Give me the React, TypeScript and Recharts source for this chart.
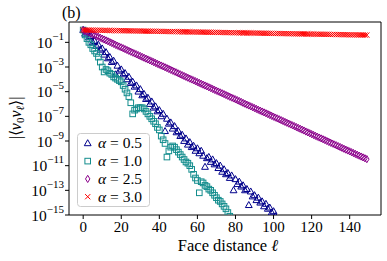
import React from "react";
import { ScatterChart, Scatter, XAxis, YAxis, ReferenceArea } from "recharts";

// log10 |<v0 v_l>|, one entry per face distance l = 0, 1, 2, ...
const alpha05 = [
  0, -0.3, -0.2, -0.6, -0.5, -1.0, -0.9, -1.3, -1.2, -1.6,
  -1.5, -2.0, -1.8, -2.3, -2.2, -2.6, -2.5, -3.6, -2.9, -3.3,
  -3.2, -3.6, -3.5, -4.0, -3.8, -4.3, -4.2, -4.6, -4.5, -5.0,
  -4.8, -5.3, -5.2, -5.6, -5.5, -6.0, -5.8, -6.3, -6.2, -6.6,
  -6.5, -7.0, -6.8, -8.2, -7.2, -7.6, -7.5, -8.0, -7.8, -8.3,
  -8.2, -8.6, -8.5, -9.0, -8.8, -9.3, -9.1, -9.5, -9.4, -9.8,
  -9.6, -10.0, -9.8, -10.2, -11.1, -10.4, -10.3, -10.7, -10.5, -10.9,
  -10.8, -11.2, -11.0, -11.5, -11.3, -11.7, -11.6, -12.0, -11.8, -13.0,
  -12.1, -12.5, -12.3, -12.7, -12.6, -13.0, -12.9, -14.2, -13.1, -13.5,
  -13.4, -13.8, -13.6, -14.0, -13.9, -14.3, -14.1, -14.5, -14.4, -14.8,
  -14.7, -15.1,
];

const alpha10 = [
  0, -0.4, -0.7, -1.0, -1.2, -1.5, -1.7, -1.9, -2.2, -2.6,
  -3.0, -3.4, -3.2, -3.3, -3.5, -3.6, -3.8, -3.9, -4.0, -4.1,
  -4.2, -4.5, -4.8, -5.1, -5.4, -5.9, -6.8, -6.5, -6.4, -6.3,
  -6.3, -6.3, -6.4, -6.6, -6.8, -7.0, -7.2, -7.4, -7.6, -7.9,
  -8.1, -8.6, -8.9, -9.2, -10.3, -9.8, -9.5, -9.4, -9.5, -9.7,
  -9.9, -10.1, -10.3, -10.5, -10.7, -10.8, -11.0, -11.3, -11.7, -12.0,
  -12.2, -13.2, -12.3, -12.4, -12.6, -12.7, -12.9, -13.0, -13.2, -13.4,
  -13.6, -13.8, -13.9, -14.1, -14.3, -14.5, -14.8, -15.1,
];

const alpha25 = [
  0, -0.07, -0.14, -0.21, -0.28, -0.35, -0.42, -0.49, -0.56, -0.63,
  -0.7, -0.77, -0.84, -0.91, -0.98, -1.05, -1.12, -1.2, -1.27, -1.34,
  -1.41, -1.48, -1.55, -1.62, -1.69, -1.76, -1.83, -1.9, -1.97, -2.04,
  -2.11, -2.18, -2.25, -2.32, -2.39, -2.46, -2.53, -2.6, -2.67, -2.74,
  -2.81, -2.88, -2.95, -3.02, -3.09, -3.16, -3.23, -3.3, -3.37, -3.44,
  -3.52, -3.59, -3.66, -3.73, -3.8, -3.87, -3.94, -4.01, -4.08, -4.15,
  -4.22, -4.29, -4.36, -4.43, -4.5, -4.57, -4.64, -4.71, -4.78, -4.85,
  -4.92, -4.99, -5.06, -5.13, -5.2, -5.27, -5.34, -5.41, -5.48, -5.55,
  -5.62, -5.69, -5.76, -5.83, -5.91, -5.98, -6.05, -6.12, -6.19, -6.26,
  -6.33, -6.4, -6.47, -6.54, -6.61, -6.68, -6.75, -6.82, -6.89, -6.96,
  -7.03, -7.1, -7.17, -7.24, -7.31, -7.38, -7.45, -7.52, -7.59, -7.66,
  -7.73, -7.8, -7.87, -7.94, -8.01, -8.08, -8.15, -8.23, -8.3, -8.37,
  -8.44, -8.51, -8.58, -8.65, -8.72, -8.79, -8.86, -8.93, -9.0, -9.07,
  -9.14, -9.21, -9.28, -9.35, -9.42, -9.49, -9.56, -9.63, -9.7, -9.77,
  -9.84, -9.91, -9.98, -10.05, -10.12, -10.19, -10.26, -10.33, -10.4, -10.47,
];

const alpha30 = [
  0, 0, -0.01, -0.01, -0.01, -0.01, -0.02, -0.02, -0.02, -0.02,
  -0.03, -0.03, -0.03, -0.04, -0.04, -0.04, -0.04, -0.05, -0.05, -0.05,
  -0.06, -0.06, -0.06, -0.06, -0.07, -0.07, -0.07, -0.07, -0.08, -0.08,
  -0.08, -0.09, -0.09, -0.09, -0.09, -0.1, -0.1, -0.1, -0.1, -0.11,
  -0.11, -0.11, -0.12, -0.12, -0.12, -0.12, -0.13, -0.13, -0.13, -0.13,
  -0.14, -0.14, -0.14, -0.15, -0.15, -0.15, -0.15, -0.16, -0.16, -0.16,
  -0.17, -0.17, -0.17, -0.17, -0.18, -0.18, -0.18, -0.18, -0.19, -0.19,
  -0.19, -0.2, -0.2, -0.2, -0.2, -0.21, -0.21, -0.21, -0.21, -0.22,
  -0.22, -0.22, -0.23, -0.23, -0.23, -0.23, -0.24, -0.24, -0.24, -0.24,
  -0.25, -0.25, -0.25, -0.26, -0.26, -0.26, -0.26, -0.27, -0.27, -0.27,
  -0.28, -0.28, -0.28, -0.28, -0.29, -0.29, -0.29, -0.29, -0.3, -0.3,
  -0.3, -0.31, -0.31, -0.31, -0.31, -0.32, -0.32, -0.32, -0.32, -0.33,
  -0.33, -0.33, -0.34, -0.34, -0.34, -0.34, -0.35, -0.35, -0.35, -0.35,
  -0.36, -0.36, -0.36, -0.37, -0.37, -0.37, -0.37, -0.38, -0.38, -0.38,
  -0.39, -0.39, -0.39, -0.39, -0.4, -0.4, -0.4, -0.4, -0.41, -0.41,
];

const xTicks = [0, 20, 40, 60, 80, 100, 120, 140];
const yTicks = [-15, -13, -11, -9, -7, -5, -3, -1];
const alphaLabels = ["0.5", "1.0", "2.5", "3.0"];

const SERIF = "Liberation Serif";
const W = 387;
const H = 261;

const toPoints = (vals: number[]) => vals.map((e, l) => ({ l, e }));

const series = [
  { key: "a05", color: "#00008b", kind: "tri", data: toPoints(alpha05) },
  { key: "a10", color: "#138d8d", kind: "sq", data: toPoints(alpha10) },
  { key: "a25", color: "#8b008b", kind: "dia", data: toPoints(alpha25) },
  { key: "a30", color: "#ff0000", kind: "x", data: toPoints(alpha30) },
];

function Marker({ kind, cx, cy, color }: { kind: string; cx: number; cy: number; color: string }) {
  if (cx == null || cy == null) return null;
  const common = { fill: "none", stroke: color, strokeWidth: 1 };
  if (kind === "tri") {
    return <path d={`M${cx},${cy - 3.6}L${cx - 3.4},${cy + 2.4}L${cx + 3.4},${cy + 2.4}Z`} {...common} />;
  }
  if (kind === "sq") {
    return <rect x={cx - 2.8} y={cy - 2.8} width={5.6} height={5.6} {...common} />;
  }
  if (kind === "dia") {
    return <path d={`M${cx},${cy - 3.6}L${cx + 2.2},${cy}L${cx},${cy + 3.6}L${cx - 2.2},${cy}Z`} {...common} />;
  }
  return (
    <path d={`M${cx - 2.6},${cy - 2.6}L${cx + 2.6},${cy + 2.6}M${cx - 2.6},${cy + 2.6}L${cx + 2.6},${cy - 2.6}`} {...common} />
  );
}

const XTick = ({ x, y, payload }: any) => (
  <text x={x} y={y + 10.5} textAnchor="middle" style={{ fontFamily: SERIF }} fontSize={15} fill="#000">
    {payload.value}
  </text>
);

const YTick = ({ x, y, payload }: any) => (
  <text x={x} y={y} textAnchor="end" style={{ fontFamily: SERIF }} fontSize={15.5} fill="#000">
    <tspan dy={5.5}>10</tspan>
    <tspan dy={-8} fontSize={11}>{"\u2212" + Math.abs(payload.value)}</tspan>
  </text>
);

export default function App() {
  return (
    <div style={{ position: "absolute", left: 0, top: 0, width: W, height: H, background: "#fff", fontFamily: SERIF }}>
      <ScatterChart width={W} height={H} margin={{ top: 22, right: 6, bottom: 6, left: 0 }}>
        <XAxis
          type="number"
          dataKey="l"
          domain={[-7.45, 156.45]}
          ticks={xTicks}
          allowDataOverflow
          axisLine={false}
          tickLine={{ stroke: "#000" }}
          tickSize={4}
          height={40}
          tick={<XTick />}
        />
        <YAxis
          type="number"
          dataKey="e"
          domain={[-15, 0.65]}
          ticks={yTicks}
          allowDataOverflow
          axisLine={false}
          tickLine={{ stroke: "#000" }}
          tickSize={4}
          tickMargin={1}
          width={69}
          tick={<YTick />}
        />
        {series.map((s) => (
          <Scatter
            key={s.key}
            data={s.data}
            isAnimationActive={false}
            shape={(p: any) => <Marker kind={s.kind} cx={p.cx} cy={p.cy} color={s.color} />}
          />
        ))}
        <ReferenceArea x1={-7.45} x2={156.45} y1={-15} y2={0.65} fill="none" stroke="#000" strokeWidth={1} ifOverflow="visible" />
      </ScatterChart>
      <svg width={W} height={H} style={{ position: "absolute", left: 0, top: 0, pointerEvents: "none", fontFamily: SERIF }}>
        <text x={62} y={18} fontSize={16}>(b)</text>
        <text x={228} y={251} textAnchor="middle" fontSize={16.5}>
          Face distance <tspan fontStyle="italic">{"\u2113"}</tspan>
        </text>
        <text transform="translate(21,118) rotate(-90)" textAnchor="middle" fontSize={16}>
          {"|\u27e8"}
          <tspan fontStyle="italic">v</tspan>
          <tspan fontSize={11} dy={3}>0</tspan>
          <tspan fontStyle="italic" dy={-3}>v</tspan>
          <tspan fontSize={11} dy={3} fontStyle="italic">{"\u2113"}</tspan>
          <tspan dy={-3}>{"\u27e9|"}</tspan>
        </text>
        <rect x={77.5} y={133.5} width={72} height={73} rx={3} fill="#fff" fillOpacity={0.8} stroke="#cccccc" />
        {series.map((s, i) => {
          const yc = 143.3 + i * 17.8;
          return (
            <g key={s.key}>
              <Marker kind={s.kind} cx={87.7} cy={yc} color={s.color} />
              <text x={98} y={yc + 5} fontSize={15.5}>
                <tspan fontStyle="italic">{"\u03b1"}</tspan>
                {" = " + alphaLabels[i]}
              </text>
            </g>
          );
        })}
      </svg>
    </div>
  );
}
